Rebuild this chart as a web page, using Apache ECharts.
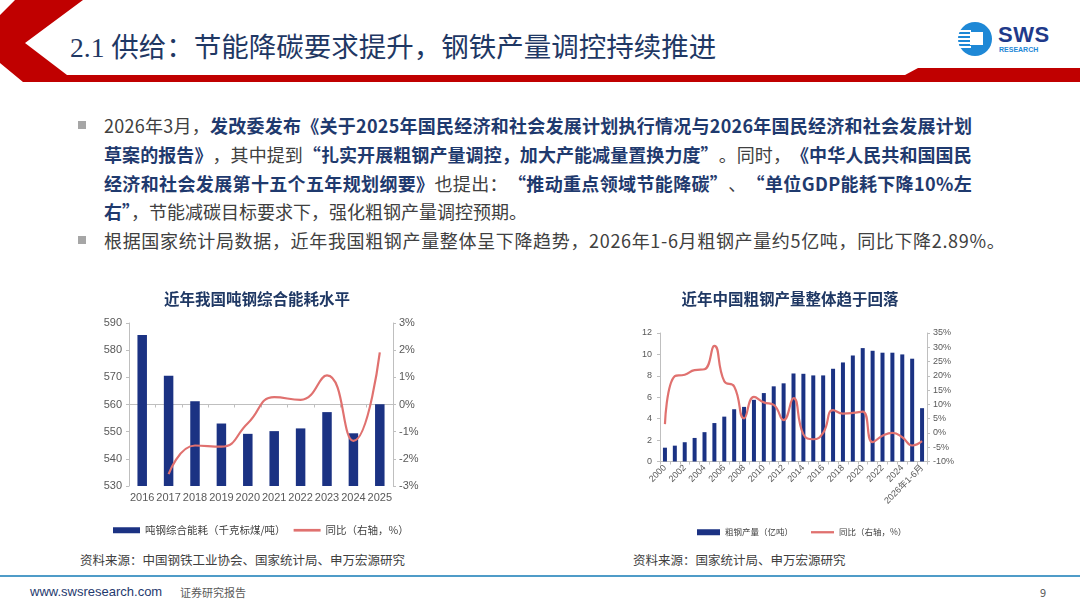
<!DOCTYPE html>
<html lang="zh-CN">
<head>
<meta charset="utf-8">
<script src="https://cdn.jsdelivr.net/npm/echarts@6/dist/echarts.min.js"></script>
<style>
  html, body { margin: 0; padding: 0; background: #fff; }
  body { width: 1080px; height: 608px; position: relative; overflow: hidden;
         font-family: "Noto Sans CJK SC", "Noto Sans", sans-serif; }
  .abs { position: absolute; }
  #title { left: 70px; top: 25px; font-size: 27.5px; color: #1f3864; white-space: nowrap;
           font-family: "Liberation Serif", "Noto Sans CJK SC", serif; }
  .line { position: absolute; left: 104px; font-size: 18px; color: #404040; white-space: nowrap; line-height: 24px; }
  .line.fit { display: flex; justify-content: space-between; }
  .line b { color: #1f3a6e; font-weight: 700; }
  .bullet { position: absolute; left: 78px; width: 8px; height: 8px; background: #a6a6a6; }
  .src { position: absolute; top: 550px; font-size: 12.5px; color: #404040; }
</style>
</head>
<body>
<svg class="abs" style="left:0;top:0" width="1080" height="90">
  <polygon points="15,0 83,0 25,43 67,75 905,75 918,68 1080,68 1080,82 23,82 0,63 0,15" fill="#c00000"/>
</svg>
<div id="title" class="abs">2.1 供给：节能降碳要求提升，钢铁产量调控持续推进</div>
<svg class="abs" style="left:955px;top:20px" width="110" height="40">
  <circle cx="20" cy="19" r="17" fill="#1e88d6"/>
  <rect x="3" y="10" width="13" height="2" fill="#fff"/>
  <rect x="3" y="14" width="13" height="2" fill="#fff"/>
  <rect x="3" y="18" width="13" height="2" fill="#fff"/>
  <rect x="3" y="22" width="13" height="2" fill="#fff"/>
  <rect x="3" y="26" width="13" height="2" fill="#fff"/>
  <rect x="15" y="12" width="13" height="13" fill="#fff"/>
</svg>
<div class="abs" style="left:998px;top:22px;font:700 22px 'Liberation Sans',sans-serif;color:#1f3a8a;letter-spacing:0.5px">SWS</div>
<div class="abs" style="left:999px;top:46px;font:700 7px 'Liberation Sans',sans-serif;color:#1e88d6">RESEARCH</div>

<div class="bullet" style="top:121px"></div>
<div class="bullet" style="top:236px"></div>
<div id="body"></div>

<div id="c1" class="abs" style="left:70px;top:275px;width:400px;height:270px"></div>
<div id="c2" class="abs" style="left:620px;top:275px;width:400px;height:270px"></div>

<div class="src" style="left:80px">资料来源：中国钢铁工业协会、国家统计局、申万宏源研究</div>
<div class="src" style="left:633px">资料来源：国家统计局、申万宏源研究</div>

<div class="abs" style="left:0;top:575px;width:1080px;height:2px;background:#4f9cc8"></div>
<div class="abs" style="left:30px;top:584px;font-size:13px;color:#1f3a6e;font-family:'Liberation Sans',sans-serif">www.swsresearch.com</div>
<div class="abs" style="left:180px;top:584px;font-size:11px;color:#595959">证券研究报告</div>
<div class="abs" style="left:1040px;top:584px;font-size:11px;color:#595959">9</div>

<script>
// body text, one entry per printed line: [text, bold]
const bodyLines = [
  { top: 113, width: 868, segs: [['2026年3月，', 0], ['发改委发布《关于2025年国民经济和社会发展计划执行情况与2026年国民经济和社会发展计划', 1]] },
  { top: 142, width: 868, segs: [['草案的报告》', 1], ['，其中提到', 0], ['“扎实开展粗钢产量调控，加大产能减量置换力度”', 1], ['。同时，', 0], ['《中华人民共和国国民', 1]] },
  { top: 171, width: 868, segs: [['经济和社会发展第十五个五年规划纲要》', 1], ['也提出：', 0], ['“推动重点领域节能降碳”', 1], ['、', 0], ['“单位GDP能耗下降10%左', 1]] },
  { top: 199, width: 0, segs: [['右”', 1], ['，节能减碳目标要求下，强化粗钢产量调控预期。', 0]] },
  { top: 228, width: 901, segs: [['根据国家统计局数据，近年我国粗钢产量整体呈下降趋势，2026年1-6月粗钢产量约5亿吨，同比下降2.89%。', 0]] }
];

const body = document.getElementById('body');
bodyLines.forEach(function (ln) {
  const div = document.createElement('div');
  div.className = 'line' + (ln.width ? ' fit' : '');
  div.style.top = ln.top + 'px';
  if (ln.width) div.style.width = ln.width + 'px';
  ln.segs.forEach(function (s) {
    Array.from(s[0]).forEach(function (ch) {
      const sp = document.createElement(s[1] ? 'b' : 'span');
      sp.textContent = ch;
      div.appendChild(sp);
    });
  });
  body.appendChild(div);
});

// 吨钢综合能耗
const energyYears = ['2016', '2017', '2018', '2019', '2020', '2021', '2022', '2023', '2024', '2025'];
const energyUse = [585.6, 570.6, 561.2, 553.0, 549.2, 550.2, 551.2, 557.2, 549.4, 560.1];
const energyYoy = [null, -2.56, -1.51, -1.55, -0.69, 0.27, 0.17, 1.07, -1.34, 1.92];

// 粗钢产量
const steelYears = ['2000', '2001', '2002', '2003', '2004', '2005', '2006', '2007', '2008', '2009',
  '2010', '2011', '2012', '2013', '2014', '2015', '2016', '2017', '2018', '2019',
  '2020', '2021', '2022', '2023', '2024', '2025', '2026年1-6月'];
const steelOutput = [1.29, 1.48, 1.80, 2.20, 2.74, 3.59, 4.19, 4.88, 5.10, 5.76,
  6.39, 7.02, 7.30, 8.22, 8.19, 8.04, 8.04, 8.66, 9.25, 9.90,
  10.59, 10.34, 10.16, 10.16, 10.00, 9.60, 4.98];
const steelYoy = [3.1, 19.9, 20.4, 22.0, 22.3, 30.5, 18.1, 16.3, 5.1, 12.6,
  10.7, 9.8, 4.5, 12.2, -0.5, -2.2, 0.0, 8.0, 6.8, 7.0,
  7.5, -3.2, -1.0, 0.0, -1.5, -4.4, -2.9];

const BAR = '#1b3283';
const LINE = '#e0716f';
const AXIS = '#bfbfbf';
const LABEL = '#595959';
const FONT = '"Liberation Sans", "Noto Sans CJK SC", sans-serif';
const LINE_ICON = 'path://M0,0h10v1h-10z';

function yAxisBase(extra) {
  return Object.assign({
    type: 'value',
    splitLine: { show: false },
    axisLine: { show: true, lineStyle: { color: AXIS } },
    axisTick: { show: true, length: 3, lineStyle: { color: AXIS } }
  }, extra);
}

var chart1 = echarts.init(document.getElementById('c1'));
chart1.setOption({
  animation: false,
  textStyle: { fontFamily: FONT },
  title: {
    text: '近年我国吨钢综合能耗水平', left: 182, top: 11, textAlign: 'center',
    textStyle: { fontSize: 15.5, fontWeight: 'bold', color: '#1f3864', fontFamily: 'Noto Sans CJK SC' }
  },
  grid: { left: 59, right: 77, top: 48, height: 163 },
  legend: {
    left: 38, top: 245, itemWidth: 27, itemHeight: 6, itemGap: 8,
    textStyle: { fontSize: 10.5, color: '#404040', fontFamily: 'Noto Sans CJK SC' },
    data: [{ name: '吨钢综合能耗（千克标煤/吨）', icon: 'rect' }, { name: '同比（右轴，%）', icon: LINE_ICON }]
  },
  xAxis: {
    type: 'category', data: energyYears,
    axisLine: { lineStyle: { color: AXIS } },
    axisTick: { show: true, length: 3, lineStyle: { color: AXIS } },
    axisLabel: { interval: 0, fontSize: 11, color: LABEL, margin: 6 }
  },
  yAxis: [
    yAxisBase({ min: 530, max: 590, interval: 10, axisLabel: { fontSize: 11, color: LABEL, margin: 7 } }),
    yAxisBase({ min: -3, max: 3, interval: 1, position: 'right',
      axisLabel: { fontSize: 11, color: LABEL, margin: 6, formatter: '{value}%' } })
  ],
  series: [
    { name: '吨钢综合能耗（千克标煤/吨）', type: 'bar', data: energyUse, barWidth: 9.5, itemStyle: { color: BAR } },
    { name: '同比（右轴，%）', type: 'line', yAxisIndex: 1, data: energyYoy, smooth: true,
      symbol: 'none', lineStyle: { color: LINE, width: 2.2 }, itemStyle: { color: LINE } }
  ]
});

var chart2 = echarts.init(document.getElementById('c2'));
chart2.setOption({
  animation: false,
  textStyle: { fontFamily: FONT },
  title: {
    text: '近年中国粗钢产量整体趋于回落', left: 165, top: 11, textAlign: 'center',
    textStyle: { fontSize: 15.5, fontWeight: 'bold', color: '#1f3864', fontFamily: 'Noto Sans CJK SC' }
  },
  grid: { left: 40, right: 93, top: 58, height: 128.5 },
  legend: {
    left: 72, top: 248, itemWidth: 23, itemHeight: 6, itemGap: 18,
    textStyle: { fontSize: 8.5, color: '#404040', fontFamily: 'Noto Sans CJK SC' },
    data: [{ name: '粗钢产量（亿吨）', icon: 'rect' }, { name: '同比（右轴，%）', icon: LINE_ICON }]
  },
  xAxis: {
    type: 'category', data: steelYears,
    axisLine: { lineStyle: { color: AXIS } },
    axisTick: { show: true, length: 3, interval: 0, lineStyle: { color: AXIS } },
    axisLabel: { interval: 1, rotate: 45, fontSize: 9, color: LABEL, margin: 5 }
  },
  yAxis: [
    yAxisBase({ min: 0, max: 12, interval: 2, axisLabel: { fontSize: 9, color: LABEL, margin: 8 } }),
    yAxisBase({ min: -10, max: 35, interval: 5, position: 'right',
      axisLabel: { fontSize: 9, color: LABEL, margin: 6, formatter: '{value}%' } })
  ],
  series: [
    { name: '粗钢产量（亿吨）', type: 'bar', data: steelOutput, barWidth: 4, itemStyle: { color: BAR } },
    { name: '同比（右轴，%）', type: 'line', yAxisIndex: 1, data: steelYoy, smooth: true,
      symbol: 'none', lineStyle: { color: LINE, width: 2.2 }, itemStyle: { color: LINE } }
  ]
});
</script>
</body>
</html>
